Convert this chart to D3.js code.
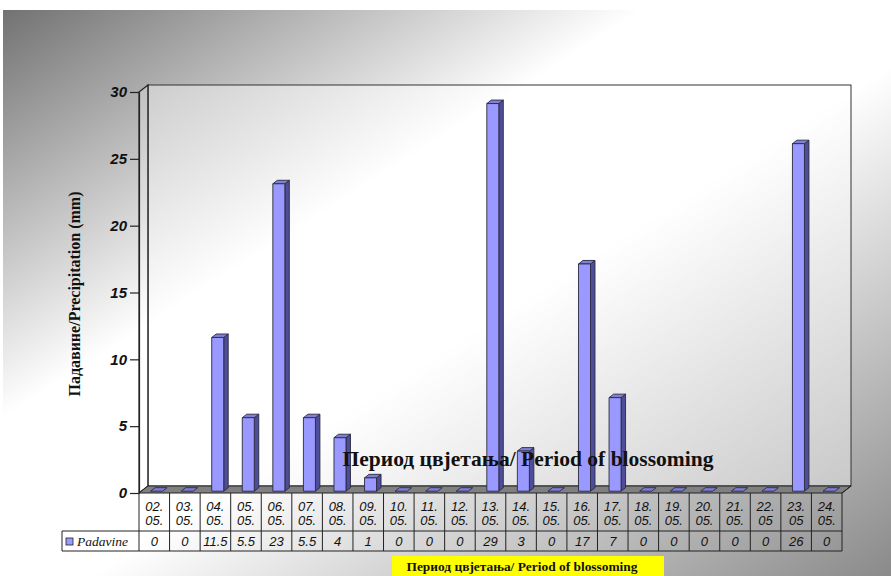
<!DOCTYPE html>
<html><head><meta charset="utf-8">
<script src="https://cdn.jsdelivr.net/npm/d3@7"></script>
<style>html,body{margin:0;padding:0;background:#fff;}svg{display:block;}</style>
</head><body>
<script>
const categories = ["02.05.","03.05.","04.05.","05.05.","06.05.","07.05.","08.05.","09.05.","10.05.","11.05.","12.05.","13.05.","14.05.","15.05.","16.05.","17.05.","18.05.","19.05.","20.05.","21.05.","22.05","23.05","24.05."];
const padavine = [0,0,11.5,5.5,23,5.5,4,1,0,0,0,29,3,0,17,7,0,0,0,0,0,26,0];
const yTicks = [0,5,10,15,20,25,30];
const seriesName = "Padavine";
const yTitle = "Падавине/Precipitation (mm)";
const xTitle = "Период цвјетања/ Period of blossoming";

const W = 891, H = 576;
const svg = d3.select("body").append("svg").attr("width", W).attr("height", H);
const defs = svg.append("defs");
const g = defs.append("linearGradient").attr("id","bg").attr("x1",0).attr("y1",0).attr("x2",1).attr("y2",1);
g.append("stop").attr("offset",0).attr("stop-color","#727272");
g.append("stop").attr("offset",0.36).attr("stop-color","#ffffff");
g.append("stop").attr("offset",0.55).attr("stop-color","#ffffff");
g.append("stop").attr("offset",1).attr("stop-color","#8a8a8a");

svg.append("rect").attr("x",3).attr("y",10).attr("width",W-3).attr("height",H-10).attr("fill","url(#bg)");

const x0 = 139, x1 = 842, yTop = 92, yBot = 493;
const DX = 9, DY = -7;
const y = d3.scaleLinear().domain([0,30]).range([yBot, yTop]);
const x = d3.scaleBand().domain(categories).range([x0, x1]).padding(0);
const bw = x.bandwidth();

// walls
svg.append("rect").attr("x", x0+DX).attr("y", yTop+DY).attr("width", x1-x0).attr("height", yBot-yTop)
  .attr("fill","#ffffff").attr("fill-opacity",0.4).attr("stroke","#333").attr("stroke-width",1);
svg.append("polygon").attr("points", [[x0,yTop],[x0+DX,yTop+DY],[x0+DX,yBot+DY],[x0,yBot]].join(" "))
  .attr("fill","#ffffff").attr("fill-opacity",0.25).attr("stroke","#222").attr("stroke-width",1.2);
svg.append("polygon").attr("points", [[x0,yBot],[x0+DX,yBot+DY],[x1+DX,yBot+DY],[x1,yBot]].join(" "))
  .attr("fill","#808080").attr("stroke","#222").attr("stroke-width",1);

// bars
const fw = 12, fdx = 2.3, fdy = -1.8, bdx = 4.5, bdy = -3.5;
const bars = svg.append("g");
categories.forEach((c,i) => {
  const v = padavine[i];
  const L = x(c) + (bw - fw)/2 + fdx;
  const R = L + fw;
  const b = y(0) + fdy, t = y(v) + fdy;
  const grp = bars.append("g").attr("stroke","#2a2a40").attr("stroke-width",0.9).attr("stroke-linejoin","round");
  if (v > 0) {
    grp.append("polygon").attr("points", [[R,t],[R+bdx,t+bdy],[R+bdx,b+bdy],[R,b]].join(" ")).attr("fill","#4d4d99");
    grp.append("polygon").attr("points", [[L,t],[L+bdx,t+bdy],[R+bdx,t+bdy],[R,t]].join(" ")).attr("fill","#8080d9");
    grp.append("rect").attr("x",L).attr("y",t).attr("width",fw).attr("height",b-t).attr("fill","#9999ff");
  } else {
    grp.append("polygon").attr("points", [[L,b],[L+bdx,b+bdy],[R+bdx,b+bdy],[R,b]].join(" ")).attr("fill","#7f7fd9");
  }
});

// y axis
const ax = svg.append("g").attr("transform",`translate(${x0},0)`)
  .call(d3.axisLeft(y).tickValues(yTicks).tickSize(9).tickSizeOuter(0).tickPadding(3));
ax.select(".domain").attr("stroke","#222").attr("stroke-width",1.2);
ax.selectAll(".tick line").attr("stroke","#222").attr("stroke-width",1.2);
ax.selectAll(".tick text").attr("font-family","Liberation Sans, Arial, sans-serif").attr("font-size",15)
  .attr("font-weight","bold").attr("font-style","italic").attr("fill","#111");

svg.append("text").attr("transform","translate(80,294) rotate(-90)").attr("text-anchor","middle")
  .attr("font-family","Liberation Serif, Times New Roman, serif").attr("font-weight","bold").attr("font-size",16)
  .attr("fill","#111").text(yTitle);

// data table
const tRow1 = yBot, tRow2 = 531, tRow3 = 551, legL = 62;
const tbl = svg.append("g").attr("stroke","#222").attr("stroke-width",1);
x.domain().forEach(c => {
  tbl.append("line").attr("x1",x(c)).attr("x2",x(c)).attr("y1",tRow1).attr("y2",tRow3);
});
tbl.append("line").attr("x1",x1).attr("x2",x1).attr("y1",tRow1).attr("y2",tRow3);
tbl.append("line").attr("x1",x1).attr("x2",x1+DX).attr("y1",tRow1).attr("y2",tRow1+DY);
tbl.append("line").attr("x1",legL).attr("x2",x1).attr("y1",tRow2).attr("y2",tRow2);
tbl.append("line").attr("x1",legL).attr("x2",x1).attr("y1",tRow3).attr("y2",tRow3);
tbl.append("line").attr("x1",legL).attr("x2",legL).attr("y1",tRow2).attr("y2",tRow3);

const lab = svg.append("g").attr("font-family","Liberation Sans, Arial, sans-serif").attr("font-size",13)
  .attr("font-style","italic").attr("fill","#111").attr("text-anchor","middle");
categories.forEach((c,i) => {
  const k = c.indexOf(".");
  const l1 = c.slice(0,k+1), l2 = c.slice(k+1);
  const cx = x(c) + bw/2;
  lab.append("text").attr("x",cx).attr("y",511).text(l1);
  lab.append("text").attr("x",cx).attr("y",525).text(l2);
  lab.append("text").attr("x",cx).attr("y",546).text(String(padavine[i]));
});

svg.append("rect").attr("x",66).attr("y",538).attr("width",7).attr("height",7)
  .attr("fill","#9999ff").attr("stroke","#222").attr("stroke-width",0.8);
svg.append("text").attr("x",77).attr("y",546).attr("font-family","Liberation Serif, Times New Roman, serif")
  .attr("font-style","italic").attr("font-size",13.5).attr("fill","#111").text(seriesName);

// overlay title
svg.append("text").attr("x",528).attr("y",466).attr("text-anchor","middle")
  .attr("font-family","Liberation Serif, Times New Roman, serif").attr("font-weight","bold").attr("font-size",21.5)
  .attr("fill","#111").text(xTitle);

// yellow box
svg.append("rect").attr("x",392).attr("y",556).attr("width",272).attr("height",20).attr("fill","#ffff00");
svg.append("text").attr("x",522).attr("y",571).attr("text-anchor","middle")
  .attr("font-family","Liberation Serif, Times New Roman, serif").attr("font-weight","bold").attr("font-size",13.4)
  .attr("fill","#111").text(xTitle);
</script>
</body></html>
